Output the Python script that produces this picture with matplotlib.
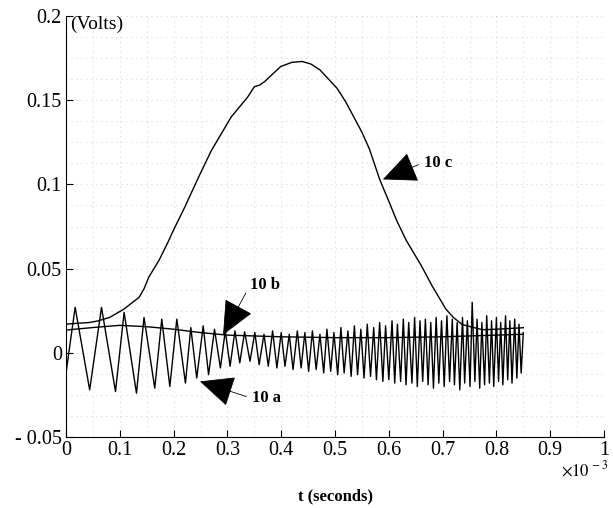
import numpy as np
import matplotlib
matplotlib.use("Agg")
import matplotlib.pyplot as plt
from matplotlib.ticker import FuncFormatter, MultipleLocator

plt.rcParams['font.family'] = ['Liberation Serif', 'DejaVu Serif']
plt.rcParams['mathtext.fontset'] = 'stix'

# ========================================================================
# data (time in units of 1e-3 s, voltage in volts)

# curve 10 c : slow bell shaped pulse
t_c = [0.0, 0.02, 0.044, 0.06, 0.081, 0.108, 0.12, 0.136, 0.145, 0.154, 0.173,
       0.19, 0.2, 0.22, 0.246, 0.27, 0.307, 0.338, 0.35, 0.36, 0.369, 0.399,
       0.42, 0.439, 0.455, 0.472, 0.504, 0.52, 0.535, 0.55, 0.564, 0.583, 0.6,
       0.614, 0.632, 0.645, 0.66, 0.68, 0.706, 0.72, 0.737, 0.774, 0.8, 0.85]
v_c = [0.017, 0.0175, 0.018, 0.019, 0.021, 0.026, 0.029, 0.033, 0.038, 0.045, 0.055,
       0.066, 0.073, 0.086, 0.104, 0.120, 0.140, 0.152, 0.158, 0.159, 0.161, 0.170,
       0.1725, 0.173, 0.1715, 0.168, 0.157, 0.149, 0.140, 0.131, 0.121, 0.103, 0.090,
       0.079, 0.067, 0.060, 0.052, 0.040, 0.026, 0.021, 0.0167, 0.0137, 0.0140, 0.0149]

# curve 10 b : nearly flat trace
t_b = [0.0, 0.05, 0.1, 0.15, 0.2, 0.25, 0.3, 0.4, 0.5, 0.6, 0.7, 0.8, 0.85]
v_b = [0.0135, 0.015, 0.0163, 0.0155, 0.014, 0.012, 0.0105, 0.0095, 0.009,
       0.009, 0.0095, 0.0105, 0.011]

# curve 10 a : oscillation getting faster, given by its peaks and troughs
peak_t = [0.017, 0.066, 0.108, 0.145, 0.178, 0.206, 0.232, 0.255, 0.276, 0.296,
          0.314, 0.332, 0.351, 0.368, 0.384, 0.400, 0.415, 0.430, 0.444, 0.458,
          0.472, 0.485, 0.498, 0.511, 0.524, 0.536, 0.548, 0.560, 0.572, 0.583,
          0.594, 0.606, 0.616, 0.627, 0.637, 0.648, 0.658, 0.668, 0.678, 0.688,
          0.698, 0.708, 0.718, 0.727, 0.737, 0.746, 0.755, 0.764, 0.773, 0.782,
          0.791, 0.800, 0.808, 0.817, 0.825, 0.834, 0.842, 0.850]
peak_v = [0.027, 0.027, 0.024, 0.021, 0.020, 0.020, 0.015, 0.016, 0.014, 0.013,
          0.013, 0.0125, 0.012, 0.011, 0.013, 0.012, 0.011, 0.013, 0.012, 0.013,
          0.011, 0.014, 0.012, 0.015, 0.013, 0.016, 0.014, 0.017, 0.015, 0.018,
          0.016, 0.019, 0.017, 0.020, 0.018, 0.021, 0.019, 0.020, 0.018, 0.021,
          0.019, 0.022, 0.020, 0.018, 0.021, 0.019, 0.030, 0.020, 0.018, 0.022,
          0.019, 0.021, 0.018, 0.022, 0.019, 0.020, 0.017, 0.012]
trough_t = [0.0, 0.044, 0.092, 0.131, 0.165, 0.193, 0.222, 0.243, 0.265, 0.287,
            0.305, 0.323, 0.342, 0.359, 0.376, 0.392, 0.407, 0.422, 0.437, 0.451,
            0.465, 0.479, 0.492, 0.505, 0.517, 0.530, 0.542, 0.554, 0.566, 0.577,
            0.589, 0.600, 0.611, 0.622, 0.632, 0.643, 0.653, 0.663, 0.673, 0.683,
            0.693, 0.703, 0.713, 0.722, 0.732, 0.741, 0.751, 0.760, 0.769, 0.778,
            0.787, 0.795, 0.804, 0.812, 0.821, 0.829, 0.838, 0.846]
trough_v = [-0.012, -0.022, -0.023, -0.024, -0.021, -0.020, -0.018, -0.015, -0.013, -0.009,
            -0.008, -0.006, -0.005, -0.007, -0.008, -0.009, -0.008, -0.010, -0.009, -0.011,
            -0.010, -0.012, -0.011, -0.013, -0.012, -0.014, -0.013, -0.015, -0.014, -0.016,
            -0.017, -0.016, -0.018, -0.017, -0.019, -0.018, -0.020, -0.017, -0.019, -0.021,
            -0.018, -0.020, -0.017, -0.019, -0.022, -0.018, -0.020, -0.017, -0.021, -0.019,
            -0.018, -0.020, -0.017, -0.019, -0.016, -0.018, -0.015, -0.012]

x_ticks = [0, 0.1, 0.2, 0.3, 0.4, 0.5, 0.6, 0.7, 0.8, 0.9, 1]
y_ticks = [-0.05, 0, 0.05, 0.1, 0.15, 0.2]

# merge peaks and troughs in time order
t_a = np.array(peak_t + trough_t)
v_a = np.array(peak_v + trough_v)
order = np.argsort(t_a)
t_a = t_a[order]
v_a = v_a[order]

# ========================================================================
# plot

fig = plt.figure(figsize=(6.13, 5.08), dpi=100)
ax = fig.add_axes([66/613, 1-437/508, (604-66)/613, (437-16)/508])

ax.plot(t_a, v_a, color='k', lw=1.0)
ax.plot(t_b, v_b, color='k', lw=1.0)
ax.plot(t_c, v_c, color='k', lw=1.0)

ax.set_xlim(0, 1)
ax.set_ylim(-0.05, 0.2)
ax.set_xticks(x_ticks)
ax.set_yticks(y_ticks)
ax.xaxis.set_minor_locator(MultipleLocator(0.05))
ax.yaxis.set_minor_locator(MultipleLocator(0.0125))

ax.xaxis.set_major_formatter(FuncFormatter(lambda v, p: '%g' % v))
ax.yaxis.set_major_formatter(FuncFormatter(lambda v, p: ('%g' % v).replace('-', '- ')))

for s in ['top', 'right']:
	ax.spines[s].set_visible(False)
ax.tick_params(which='major', direction='in', length=5, width=0.8, labelsize=14.5, pad=3)
ax.tick_params(which='minor', length=0)

ax.grid(which='both', color='#bdbdbd', lw=0.6, linestyle=(0, (1, 5)))
ax.set_axisbelow(True)

ax.text(0.008, 0.2, '(Volts)', fontsize=14, va='top', ha='left')
ax.set_xlabel('t (seconds)', fontsize=12, fontweight='bold', labelpad=20)
fig.text(585/613, 1-470/508, r'$\times 10^{\,-3}$', fontsize=12, ha='center', va='center')

arrow = dict(arrowstyle='-|>,head_length=2.2,head_width=1.0', color='k', lw=0.6,
	mutation_scale=10, shrinkA=2, shrinkB=0, relpos=(0, 0.5))
ax.annotate('10 c', xy=(0.589, 0.103), xytext=(0.665, 0.113), fontsize=12,
	fontweight='bold', ha='left', va='center', arrowprops=arrow)
ax.annotate('10 b', xy=(0.292, 0.0107), xytext=(0.342, 0.040), fontsize=12,
	fontweight='bold', ha='left', va='center', arrowprops=arrow)
ax.annotate('10 a', xy=(0.249, -0.017), xytext=(0.345, -0.027), fontsize=12,
	fontweight='bold', ha='left', va='center', arrowprops=arrow)

fig.savefig('out.png', dpi=100)
